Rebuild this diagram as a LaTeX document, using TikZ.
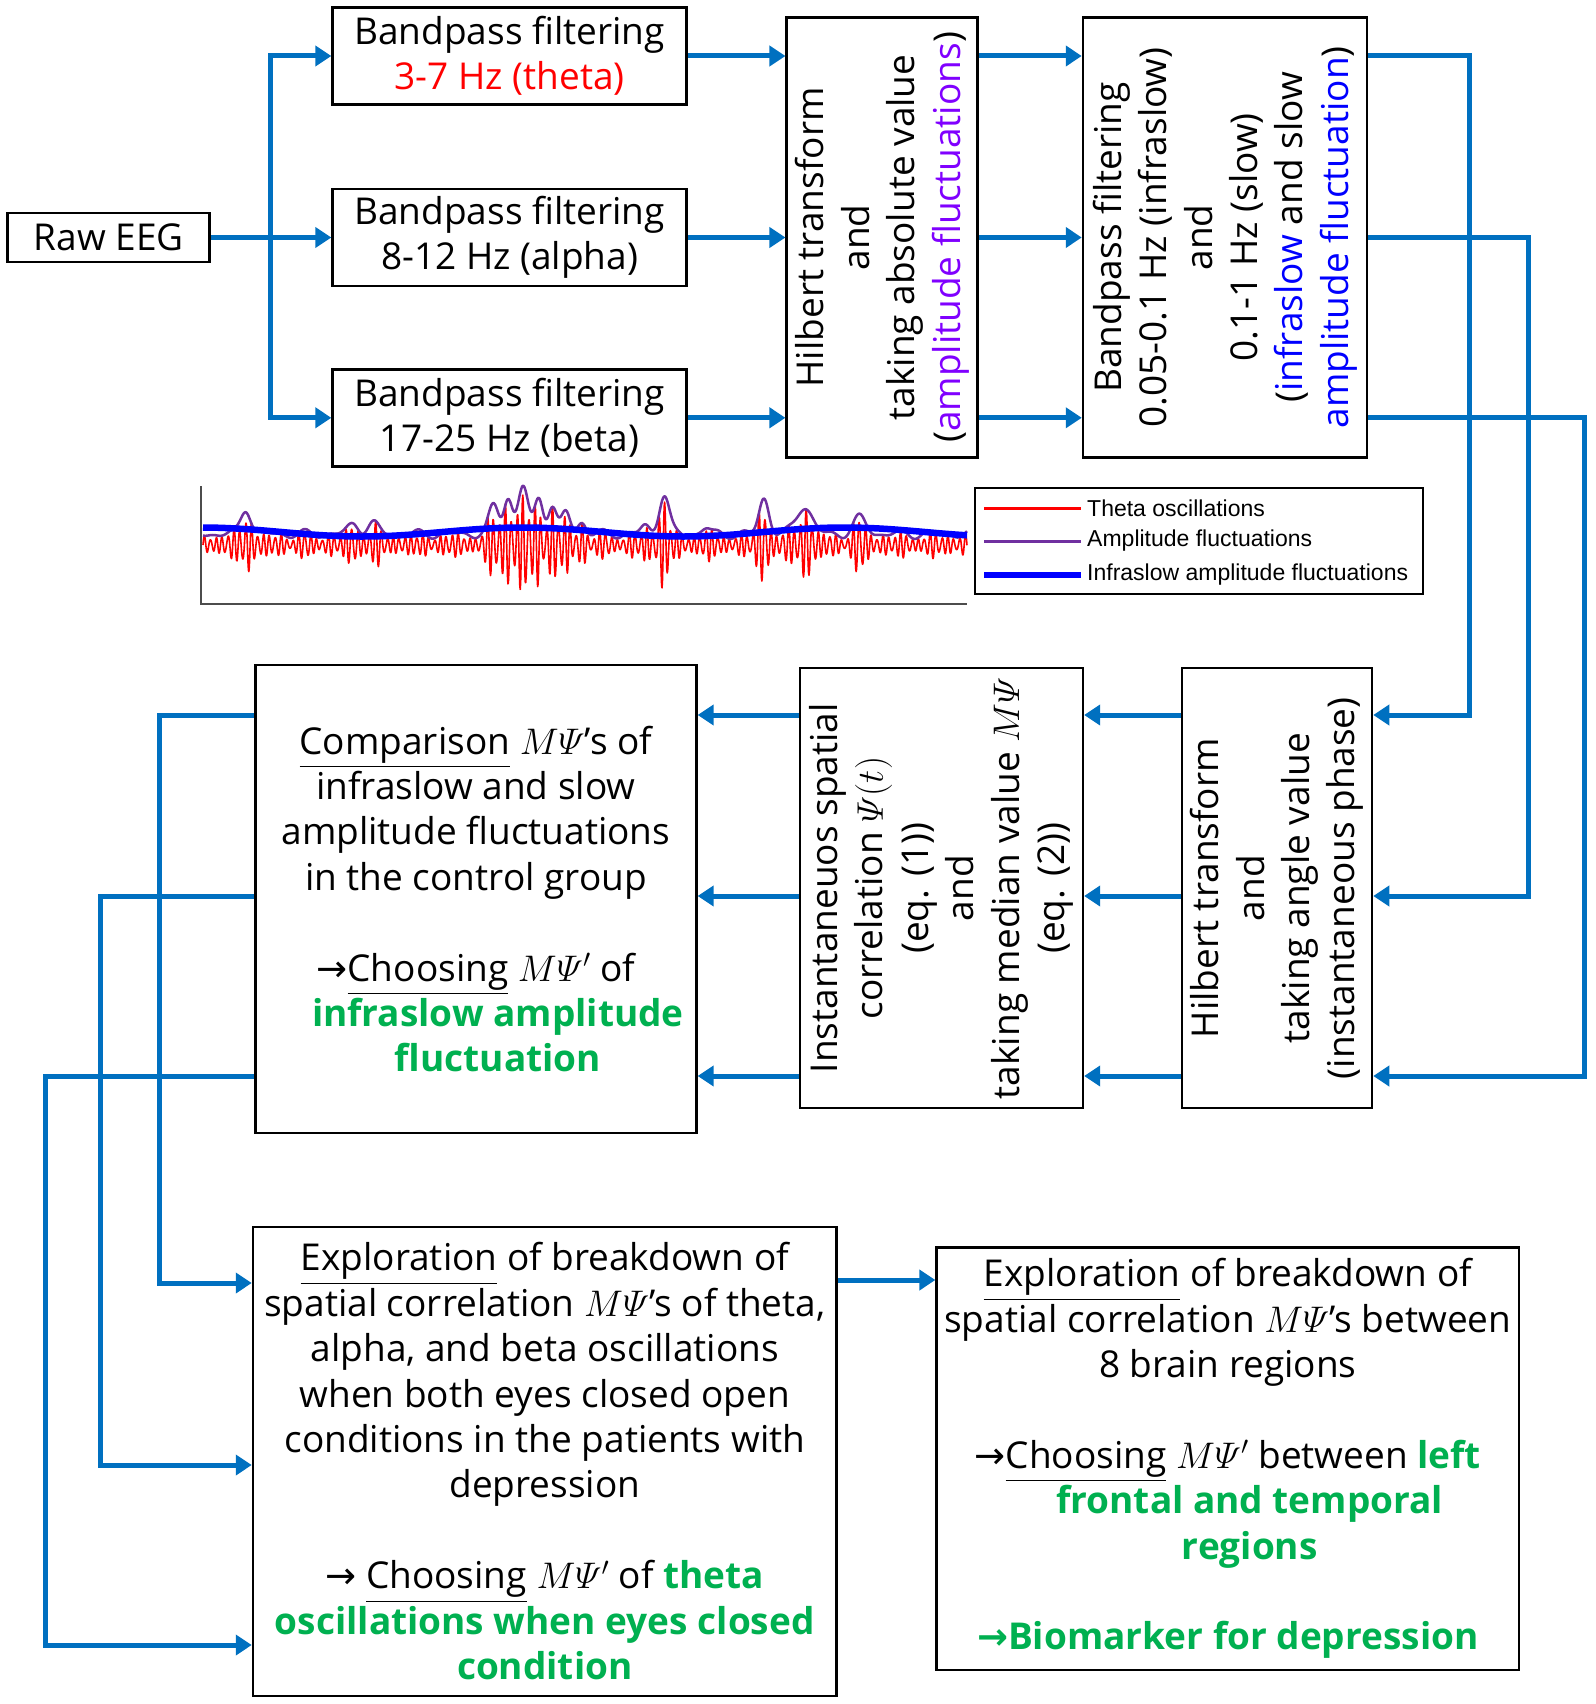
\RequirePackage{fix-cm}
\documentclass[tikz,border=0pt]{standalone}
\usepackage{amsmath}
\usepackage[no-math]{fontspec}
\setmainfont{Open Sans}
\newfontfamily\symf{DejaVu Sans}
\newfontfamily\legf{Liberation Sans}
\usetikzlibrary{arrows.meta,calc}
\definecolor{ablue}{RGB}{0,112,192}
\definecolor{gr}{RGB}{0,176,80}
\definecolor{pu}{RGB}{128,0,255}
\definecolor{bl}{RGB}{0,0,255}
\definecolor{rd}{RGB}{255,0,0}
\definecolor{plotpu}{RGB}{112,48,160}
\newcommand{\myarr}{{\symf →}}
\newcommand{\mpsi}{$M\varPsi$}
\newcommand{\gb}[1]{\textcolor{gr}{\bfseries #1}}
\tikzset{
  box/.style={draw=black, line width=2.5pt, inner sep=0pt, align=center, font=\fontsize{37}{45.4}\selectfont},
  rtxt/.style={rotate=90, inner sep=0pt, align=center, font=\fontsize{37}{45.4}\selectfont},
  conn/.style={draw=ablue, line width=5pt},
  arr/.style={conn, -{Triangle[length=16pt,width=20pt]}},
  legtxt/.style={anchor=west, inner sep=0pt, font=\legf\fontsize{23}{26}\selectfont},
  declare function={
    bump(\x,\m,\s)=exp(-(min(abs(\x-\m)/\s,8))^2);
    envA(\x)=11+26*bump(\x,246,7)+10*bump(\x,354,8)+10*bump(\x,373,8)
      +28*bump(\x,494,7)+36*bump(\x,508,6)+48*bump(\x,523,7)+36*bump(\x,539,6)
      +28*bump(\x,552,6)+22*bump(\x,566,6)+12*bump(\x,582,6)
      +8*bump(\x,645,6)+40*bump(\x,664,7)+6*bump(\x,706,6)
      +36*bump(\x,764,7)+28*bump(\x,804,11)+16*bump(\x,860,9)
      +3*sin(mod(\x,37)/37*360)+2*sin(mod(\x,23)/23*360);
  }
}
\begin{document}
\begin{tikzpicture}[x=1pt,y=-1pt]
\useasboundingbox (0,0) rectangle (1595,1704);

% ---------- top row ----------
\node[box, minimum width=202pt, minimum height=49pt] (raw) at (108.6,237.5) {Raw EEG};
\node[box, minimum width=354pt, minimum height=97pt] (bp1) at (509.6,56) {Bandpass filtering\\\textcolor{rd}{3-7 Hz (theta)}};
\node[box, minimum width=354pt, minimum height=97pt] (bp2) at (509.6,237.5) {Bandpass filtering\\8-12 Hz (alpha)};
\node[box, minimum width=354pt, minimum height=97pt] (bp3) at (509.6,417.8) {Bandpass filtering\\17-25 Hz (beta)};

\node[box, minimum width=191pt, minimum height=440pt] (hil1) at (882.2,237.4) {};
\node[rtxt] (hil1t) at (hil1.center) {Hilbert transform\\and\\taking absolute value\\(\textcolor{pu}{amplitude fluctuations})};

\node[box, minimum width=284pt, minimum height=440pt] (box4) at (1225,237.4) {};
\node[rtxt] (box4t) at (box4.center) {Bandpass filtering\\0.05-0.1 Hz (infraslow)\\and\\0.1-1 Hz (slow)\\(\textcolor{bl}{infraslow} and slow\\\textcolor{bl}{amplitude fluctuation})};

% ---------- middle row ----------
\node[box, minimum width=190pt, minimum height=440pt] (hil2) at (1277,888.2) {};
\node[rtxt] (hil2t) at (hil2.center) {Hilbert transform\\and\\taking angle value\\(instantaneous phase)};

\node[box, minimum width=283pt, minimum height=440pt] (inst) at (941.4,888.2) {};
\node[rtxt] (instt) at (inst.center) {Instantaneuos spatial\\correlation $\varPsi(t)$\\(eq. (1))\\and\\taking median value $M\varPsi$\\(eq. (2))};

\node[box, minimum width=441pt, minimum height=468pt] (comp) at (475.9,899) {\underline{Comparison} \mpsi's of\\
infraslow and slow\\
amplitude fluctuations\\
in the control group\\[45.4pt]
\myarr\underline{Choosing} $M\varPsi'$ of\\
\hspace*{44pt}\gb{infraslow amplitude}\\
\hspace*{44pt}\gb{fluctuation}};

% ---------- bottom row ----------
\node[box, minimum width=583.6pt, minimum height=469pt] (ex1) at (544.8,1461.3) {\underline{Exploration} of breakdown of\\
spatial correlation \mpsi's of theta,\\
alpha, and beta oscillations\\
when both eyes closed open\\
conditions in the patients with\\
depression\\[45.4pt]
\myarr\ \underline{Choosing} $M\varPsi'$ of \gb{theta}\\
\gb{oscillations when eyes closed}\\
\gb{condition}};

\node[box, minimum width=582.4pt, minimum height=422.7pt] (ex2) at (1227.8,1458.6) {\underline{Exploration} of breakdown of\\
spatial correlation \mpsi's between\\
8 brain regions\\[45.4pt]
\myarr\underline{Choosing} $M\varPsi'$ between \gb{left}\\
\hspace*{44pt}\gb{frontal and temporal}\\
\hspace*{44pt}\gb{regions}\\[45.4pt]
\textcolor{gr}{\bfseries\myarr Biomarker for depression}};

% ---------- row coordinates ----------
\coordinate (ra) at (0,715);
\coordinate (rb) at (0,896);
\coordinate (rc) at (0,1076);
\coordinate (ea) at (0,1283);
\coordinate (eb) at (0,1465);
\coordinate (ec) at (0,1645);
\coordinate (v1) at (1469,0);
\coordinate (v2) at (1528,0);
\coordinate (v3) at (1584,0);
\coordinate (w1) at (159,0);
\coordinate (w2) at (100,0);
\coordinate (w3) at (45,0);
\coordinate (br) at (270,237.5);

% ---------- connectors ----------
\draw[conn] (raw.east) -- (br);
\draw[arr] (br) |- (bp1.west);
\draw[arr] (br) -- (bp2.west);
\draw[arr] (br) |- (bp3.west);

\draw[arr] (bp1.east) -- (bp1.east -| hil1.west);
\draw[arr] (bp2.east) -- (bp2.east -| hil1.west);
\draw[arr] (bp3.east) -- (bp3.east -| hil1.west);

\draw[arr] (bp1.east -| hil1.east) -- (bp1.east -| box4.west);
\draw[arr] (bp2.east -| hil1.east) -- (bp2.east -| box4.west);
\draw[arr] (bp3.east -| hil1.east) -- (bp3.east -| box4.west);

\draw[arr] (bp1.east -| box4.east) -| (v1 |- ra) -- (hil2.east |- ra);
\draw[arr] (bp2.east -| box4.east) -| (v2 |- rb) -- (hil2.east |- rb);
\draw[arr] (bp3.east -| box4.east) -| (v3 |- rc) -- (hil2.east |- rc);

\draw[arr] (hil2.west |- ra) -- (inst.east |- ra);
\draw[arr] (hil2.west |- rb) -- (inst.east |- rb);
\draw[arr] (hil2.west |- rc) -- (inst.east |- rc);

\draw[arr] (inst.west |- ra) -- (comp.east |- ra);
\draw[arr] (inst.west |- rb) -- (comp.east |- rb);
\draw[arr] (inst.west |- rc) -- (comp.east |- rc);

\draw[arr] (comp.west |- ra) -| (w1 |- ea) -- (ex1.west |- ea);
\draw[arr] (comp.west |- rb) -| (w2 |- eb) -- (ex1.west |- eb);
\draw[arr] (comp.west |- rc) -| (w3 |- ec) -- (ex1.west |- ec);

\coordinate (ed) at (0,1280);
\draw[arr] (ex1.east |- ed) -- (ex2.west |- ed);

% ---------- signal plot ----------
\draw[line width=1.2pt, black!70] (201,486) -- (201,604) -- (967,604);
\draw[rd, line width=1.6pt, line join=round] plot[domain=203:967, samples=1800] (\x, {545 - envA(\x)*(0.75*sin(mod(\x-203,5.9)/5.9*360)+0.2*sin(mod(\x-203,4.3)/4.3*360)+0.1*sin(mod(\x-203,7.7)/7.7*360))});
\draw[plotpu, line width=2.5pt, line join=round] plot[domain=203:967, samples=700] (\x, {545 - envA(\x)});
\draw[bl, line width=6.5pt] plot[domain=203:967, samples=200] (\x, {532 - 4.5*cos(360*((\x-201)/766-0.42)/0.42)});

% legend
\draw[line width=1.2pt] (975,488) rectangle (1423,594);
\draw[rd, line width=3pt] (984,508) -- (1081,508);
\draw[plotpu, line width=3pt] (984,541) -- (1081,541);
\draw[bl, line width=6pt] (984,575) -- (1081,575);
\node[legtxt] (lg1) at (1087,508) {Theta oscillations};
\node[legtxt] (lg2) at (1087,541) {Amplitude fluctuations};
\node[legtxt] (lg3) at (1087,575) {Infraslow amplitude fluctuations};
\end{tikzpicture}
\end{document}
